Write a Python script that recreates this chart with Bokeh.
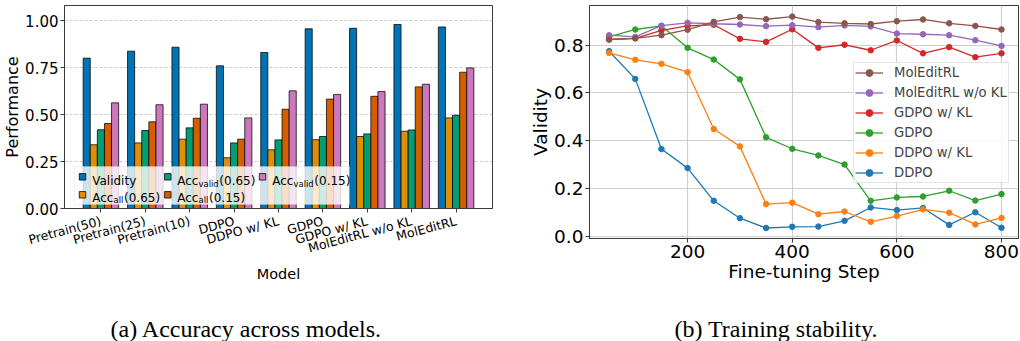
import math
from bokeh.plotting import figure
from bokeh.models import (Range1d, FixedTicker, BoxAnnotation, Legend,
                          LegendItem, NumeralTickFormatter, Title)
from bokeh.layouts import row
from bokeh.core.properties import value
from bokeh.embed import file_html
from bokeh.resources import INLINE

# ---------------- data ----------------
models = ["Pretrain(50)", "Pretrain(25)", "Pretrain(10)", "DDPO", "DDPO w/ KL",
          "GDPO", "GDPO w/ KL", "MolEditRL w/o KL", "MolEditRL"]
validity      = [0.800, 0.837, 0.858, 0.759, 0.830, 0.956, 0.959, 0.979, 0.966]
acc_all_065   = [0.339, 0.349, 0.369, 0.270, 0.312, 0.366, 0.383, 0.411, 0.482]
acc_valid_065 = [0.419, 0.415, 0.429, 0.349, 0.365, 0.383, 0.397, 0.418, 0.496]
acc_all_015   = [0.452, 0.461, 0.480, 0.369, 0.528, 0.582, 0.597, 0.647, 0.725]
acc_valid_015 = [0.562, 0.552, 0.555, 0.482, 0.626, 0.607, 0.622, 0.661, 0.748]
perf_ticks = [0.0, 0.25, 0.5, 0.75, 1.0]

steps = [50, 100, 150, 200, 250, 300, 350, 400, 450, 500, 550, 600, 650, 700, 750, 800]
ddpo        = [0.775, 0.659, 0.365, 0.285, 0.148, 0.075, 0.034, 0.039, 0.040, 0.064, 0.120, 0.109, 0.118, 0.047, 0.100, 0.035]
ddpo_kl     = [0.768, 0.739, 0.722, 0.687, 0.449, 0.376, 0.134, 0.140, 0.092, 0.103, 0.060, 0.084, 0.112, 0.098, 0.049, 0.076]
gdpo        = [0.835, 0.866, 0.881, 0.789, 0.740, 0.657, 0.414, 0.366, 0.338, 0.300, 0.148, 0.162, 0.166, 0.190, 0.149, 0.176]
gdpo_kl     = [0.824, 0.829, 0.862, 0.881, 0.886, 0.827, 0.814, 0.867, 0.789, 0.802, 0.779, 0.820, 0.766, 0.792, 0.750, 0.766]
moleditrl_nokl = [0.842, 0.835, 0.882, 0.894, 0.890, 0.887, 0.880, 0.884, 0.876, 0.883, 0.879, 0.849, 0.846, 0.842, 0.821, 0.797]
moleditrl   = [0.824, 0.829, 0.842, 0.865, 0.898, 0.918, 0.909, 0.920, 0.897, 0.892, 0.889, 0.901, 0.908, 0.892, 0.881, 0.866]
step_ticks = [200, 400, 600, 800]
valid_ticks = [0.0, 0.2, 0.4, 0.6, 0.8]

caption_a = "(a) Accuracy across models."
caption_b = "(b) Training stability."

FONT = "DejaVu Sans"
SERIF = "Liberation Serif"
SPINE = "#3a3a3a"

# ---------------- left: bar chart ----------------
LX0, LX1 = -0.82, 8.82
LY0, LY1 = 0.0, 1.08
LFW, LFH = 428, 203
lppx = LFW / (LX1 - LX0)      # px per x unit
lppy = LFH / (LY1 - LY0)      # px per y unit

p1 = figure(frame_width=LFW, frame_height=LFH, min_border_left=64, min_border_right=33,
            min_border_top=5, min_border_bottom=133,
            x_range=Range1d(LX0, LX1), y_range=Range1d(LY0, LY1),
            output_backend="svg", toolbar_location=None)

bar_series = [
    ("Validity", validity, "#0173B2"),
    ("Acc_all(0.65)", acc_all_065, "#DE8F05"),
    ("Acc_valid(0.65)", acc_valid_065, "#029E73"),
    ("Acc_all(0.15)", acc_all_015, "#D55E00"),
    ("Acc_valid(0.15)", acc_valid_015, "#CC78BC"),
]
BW = 0.16
for j, (name, vals, col) in enumerate(bar_series):
    xs = [i + (j - 2) * BW for i in range(len(models))]
    p1.vbar(x=xs, top=vals, bottom=0, width=BW, fill_color=col,
            line_color="black", line_alpha=0.75, line_width=1)

p1.xgrid.visible = False
p1.ygrid.grid_line_color = "#b0b0b0"
p1.ygrid.grid_line_alpha = 0.8
p1.ygrid.grid_line_dash = "3 2"
p1.ygrid.grid_line_width = 0.8
p1.yaxis.ticker = FixedTicker(ticks=perf_ticks)
p1.yaxis.formatter = NumeralTickFormatter(format="0.00")
p1.xaxis.ticker = FixedTicker(ticks=list(range(len(models))))
p1.xaxis.major_label_overrides = {i: m for i, m in enumerate(models)}
p1.xaxis.major_label_orientation = math.radians(15)
p1.yaxis.axis_label = "Performance"
p1.xaxis.axis_label = "Model"

# manual legend (positions in px relative to frame left / y=0 line)
def lx(px):
    return LX0 + px / lppx

def ly(px_above):
    return LY0 + px_above / lppy

box = BoxAnnotation(left=lx(10), right=lx(285), bottom=ly(4), top=ly(42),
                    fill_color="white", fill_alpha=0.8, line_color="#cccccc", line_width=1)
p1.add_layout(box)

DJ = {"A": .684, "c": .550, "a": .613, "l": .278, "v": .592, "i": .278, "d": .635,
      "(": .390, ")": .390, ".": .318, "0": .636, "1": .636, "5": .636, "6": .636}

def tw(s, size):
    return sum(DJ.get(ch, 0.6) for ch in s) * size

legend_entries = [  # swatch x, text x, swatch centre above y=0, text baseline above y=0
    (18, 27.7, 31.7, 27.3, "#0173B2", "Validity", "", ""),
    (18, 27.7, 13.7, 10.7, "#DE8F05", "Acc", "all", "(0.65)"),
    (103.3, 112.7, 31.7, 27.3, "#029E73", "Acc", "valid", "(0.65)"),
    (103.3, 112.7, 13.7, 10.7, "#D55E00", "Acc", "all", "(0.15)"),
    (198, 207.7, 31.7, 27.3, "#CC78BC", "Acc", "valid", "(0.15)"),
]
sw_x, sw_y, sw_c = [], [], []
mt_x, mt_y, mt_t = [], [], []
st_x, st_y, st_t = [], [], []
for sx, tx, sy, by, col, main, sub, tail in legend_entries:
    sw_x.append(lx(sx)); sw_y.append(ly(sy)); sw_c.append(col)
    mt_x.append(lx(tx)); mt_y.append(ly(by)); mt_t.append(main)
    if sub:
        w1 = tw(main, 12)
        st_x.append(lx(tx + w1)); st_y.append(ly(by - 2.5)); st_t.append(sub)
        w2 = tw(sub, 8.4)
        mt_x.append(lx(tx + w1 + w2 + 0.6)); mt_y.append(ly(by)); mt_t.append(tail)

p1.rect(x=sw_x, y=sw_y, width=6.5, height=6.5, width_units="screen", height_units="screen",
        fill_color=sw_c, line_color="black", line_alpha=0.75, line_width=1, level="overlay")
p1.text(x=mt_x, y=mt_y, text=mt_t, text_font=value(FONT), text_font_size=value("12px"),
        text_baseline="alphabetic", text_align="left", text_color="black", level="overlay")
p1.text(x=st_x, y=st_y, text=st_t, text_font=value(FONT), text_font_size=value("8.4px"),
        text_baseline="alphabetic", text_align="left", text_color="black", level="overlay")

p1.add_layout(Title(text=caption_a, align="left", offset=46, standoff=59,
                    text_font=SERIF, text_font_size="24px", text_font_style="normal",
                    text_color="black"), "below")

# ---------------- right: line chart ----------------
RX0, RX1 = 12.5, 832.5
RY0, RY1 = -0.0101, 0.9666
RFW, RFH = 429, 233

p2 = figure(frame_width=RFW, frame_height=RFH, min_border_left=64, min_border_right=2,
            min_border_top=5, min_border_bottom=103,
            x_range=Range1d(RX0, RX1), y_range=Range1d(RY0, RY1),
            output_backend="svg", toolbar_location=None)

line_series = [
    ("DDPO", ddpo, "#1f77b4"),
    ("DDPO w/ KL", ddpo_kl, "#ff7f0e"),
    ("GDPO", gdpo, "#2ca02c"),
    ("GDPO w/ KL", gdpo_kl, "#d62728"),
    ("MolEditRL w/o KL", moleditrl_nokl, "#9467bd"),
    ("MolEditRL", moleditrl, "#8c564b"),
]
items = []
for name, vals, col in line_series:
    l = p2.line(steps, vals, line_color=col, line_width=1.3)
    s = p2.scatter(steps, vals, marker="circle", size=5.5, fill_color=col, line_color=col)
    items.append(LegendItem(label=name, renderers=[l, s]))
items = items[::-1]
leg = Legend(items=items, location=(264, 55), label_text_font=FONT, label_text_font_size="13.2px",
             glyph_width=28, glyph_height=17, label_height=17, label_standoff=11,
             spacing=3, padding=1, margin=0, border_line_color="#cccccc",
             border_line_width=1, background_fill_color="white", background_fill_alpha=0.8)
p2.add_layout(leg)

p2.xgrid.grid_line_color = "#cfcfcf"
p2.ygrid.grid_line_color = "#cfcfcf"
p2.xgrid.grid_line_width = 1.2
p2.ygrid.grid_line_width = 1.2
p2.xaxis.ticker = FixedTicker(ticks=step_ticks)
p2.yaxis.ticker = FixedTicker(ticks=valid_ticks)
p2.yaxis.formatter = NumeralTickFormatter(format="0.0")
p2.xaxis.axis_label = "Fine-tuning Step"
p2.yaxis.axis_label = "Validity"

p2.add_layout(Title(text=caption_b, align="left", offset=85, standoff=59,
                    text_font=SERIF, text_font_size="24px", text_font_style="normal",
                    text_color="black"), "below")

for p in (p1, p2):
    p.outline_line_color = SPINE
    p.outline_line_width = 1
    p.axis.axis_line_color = SPINE
    p.axis.major_tick_line_color = SPINE
    p.axis.major_tick_out = 4
    p.axis.major_tick_in = 0
    p.axis.minor_tick_line_color = None
    p.axis.major_label_text_font = FONT
    p.axis.axis_label_text_font = FONT
    p.axis.axis_label_text_font_style = "normal"
    p.axis.major_label_text_color = "black"
    p.axis.axis_label_text_color = "black"
    p.axis.major_label_standoff = 2
    p.axis.axis_label_standoff = 0
    p.background_fill_color = "white"
    p.border_fill_color = "white"

p1.xaxis.major_label_text_font_size = "12.5px"
p1.yaxis.major_label_text_font_size = "15px"
p1.yaxis.axis_label_text_font_size = "16px"
p1.xaxis.axis_label_text_font_size = "14.5px"
p1.xaxis.major_label_standoff = 8
p1.xaxis.axis_label_standoff = 0
p2.xaxis.major_label_text_font_size = "18.5px"
p2.yaxis.major_label_text_font_size = "18.5px"
p2.xaxis.axis_label_text_font_size = "18.5px"
p2.yaxis.axis_label_text_font_size = "18.5px"

layout = row(p1, p2)
open("out.html", "w").write(file_html(layout, INLINE))
